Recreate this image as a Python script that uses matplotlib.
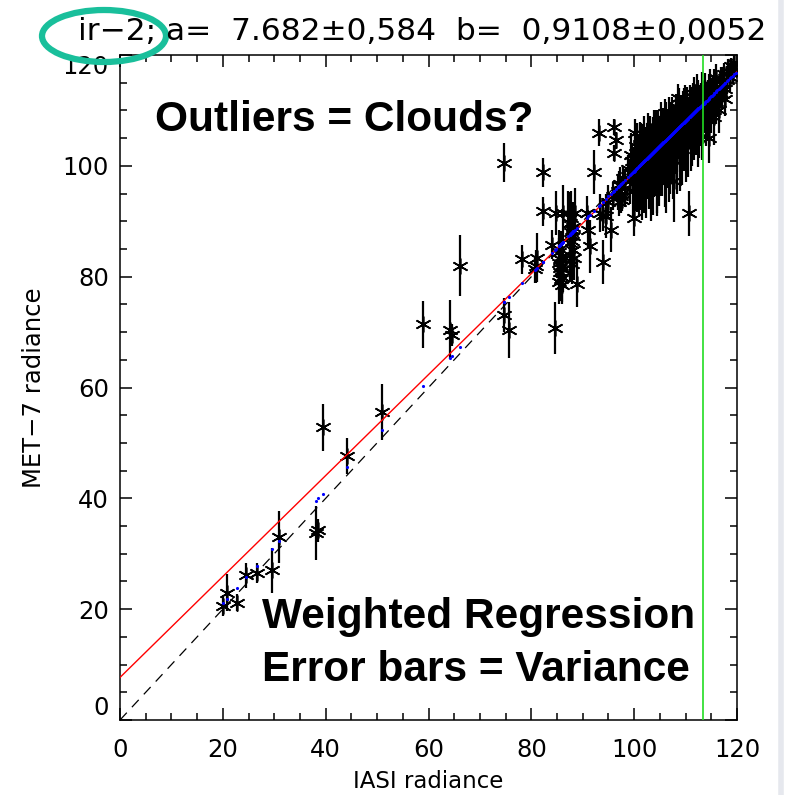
import numpy as np
import matplotlib.pyplot as plt
from matplotlib.patches import Ellipse

# collocated IASI / MET-7 radiances (channel ir-2) and MET-7 pixel variance
iasi = [20.1, 20.8, 22.7, 24.6, 26.6, 29.6, 30.9, 38.1, 38.6, 39.4,
        44.2, 50.9, 59.0, 64.2, 64.6, 66.1, 74.6, 74.6, 75.6, 78.2,
        80.7, 80.9, 81.1, 82.2, 82.2, 84.0, 84.6, 84.8, 85.4, 85.6,
        85.8, 85.5, 85.7, 85.9, 86.1, 86.2, 87.2, 87.5, 87.9, 88.2,
        87.5, 88.1, 88.3, 87.9, 88.5, 88.8, 90.8, 91.1, 91.4, 92.1,
        93.1, 93.4, 93.9, 93.9, 94.5, 95.0, 95.5, 95.8, 96.0, 96.4,
        96.0, 96.9, 99.9,
        85.3, 85.6, 85.9, 85.4, 86.0, 87.7, 88.0, 87.6, 88.2, 87.8,
        96.8, 97.2, 97.5, 97.1,
        97.0, 97.4, 97.6, 97.8, 98.3, 98.8, 99.2, 99.6, 100.0, 100.2,
        100.3, 100.5, 100.8, 101.0, 101.2, 101.4, 101.6, 101.8, 102.0, 102.2,
        102.4, 102.6, 102.8, 103.0, 103.2, 103.4, 103.6, 103.8, 104.0, 104.2,
        104.4, 104.6, 104.8, 105.0, 105.2, 105.4, 105.6, 105.8, 106.0, 106.0,
        106.2, 106.4, 106.6, 106.8, 107.0, 107.2, 107.4, 107.6, 107.8, 108.0,
        108.2, 108.4, 108.6, 108.8, 109.0, 109.2, 109.4, 109.6, 109.8, 110.0,
        110.2, 110.4, 110.7, 110.8, 111.0, 111.2, 111.4, 111.6, 111.8, 112.0,
        112.2, 112.4, 112.6, 112.8, 113.0, 113.2, 113.5, 113.8, 114.0, 114.3,
        114.5, 114.8, 115.0, 115.3, 115.6, 115.9, 116.2, 116.5, 116.8, 117.1,
        117.4, 117.7, 117.7, 118.0, 118.3, 118.6, 118.9, 119.2, 119.5, 119.8,
        99.4, 99.8, 100.1, 100.4, 100.6, 100.9, 101.1, 101.3, 101.5, 101.7,
        101.9, 102.1, 102.3, 102.5, 102.7, 102.9, 103.1, 103.3, 103.5, 103.7,
        103.9, 104.1, 104.3, 104.5, 104.7, 104.9, 105.1, 105.3, 105.5, 105.7,
        105.9, 106.1, 106.3, 106.5, 106.7, 106.9, 107.1, 107.3, 107.5, 107.7,
        107.9, 108.1, 108.3, 108.5, 108.7, 108.9, 109.1, 109.3, 109.5, 109.7,
        109.9, 110.1, 110.3, 110.5, 110.9, 111.1, 111.3, 111.5, 111.7, 111.9,
        112.1, 112.3, 112.5, 112.7, 112.9, 113.1, 113.4, 113.7, 114.1, 114.6,
        115.1, 115.5, 116.0, 116.6, 117.2]
met7 = [20.5, 23.0, 21.2, 26.1, 26.5, 27.0, 33.0, 33.7, 34.2, 52.8,
        47.6, 55.6, 71.4, 70.4, 69.5, 82.0, 100.6, 73.1, 70.4, 83.1,
        81.3, 81.9, 83.4, 98.8, 91.8, 85.8, 70.7, 91.5, 84.5, 83.2,
        82.0, 80.8, 79.6, 78.5, 81.3, 91.5, 91.5, 89.7, 88.5, 87.3,
        86.1, 84.9, 83.4, 82.2, 91.5, 78.6, 91.5, 88.5, 85.5, 98.9,
        106.0, 91.5, 91.2, 82.6, 91.0, 93.5, 88.5, 94.6, 107.0, 104.6,
        102.3, 94.5, 90.6,
        82.5, 81.5, 80.0, 79.0, 83.8, 88.0, 86.5, 84.0, 89.0, 90.5,
        95.5, 96.8, 94.5, 93.5,
        96.5, 95.0, 93.8, 97.8, 96.0, 99.5, 97.2, 100.8, 98.0, 106.0,
        103.5, 96.2, 101.0, 99.2, 105.2, 97.5, 102.3, 100.0, 104.0, 98.6,
        101.5, 106.5, 99.8, 103.0, 97.0, 101.2, 104.8, 100.3, 102.6, 107.0,
        99.0, 103.8, 101.6, 105.5, 100.5, 103.0, 108.0, 102.0, 104.5, 109.6,
        98.5, 106.2, 103.2, 109.5, 101.5, 105.0, 107.5, 103.5, 97.3, 106.0,
        110.0, 104.0, 112.3, 107.2, 102.5, 108.8, 105.5, 111.0, 106.8, 103.5,
        109.5, 107.5, 91.4, 111.5, 105.0, 108.6, 112.5, 106.5, 110.2, 108.0,
        113.5, 105.8, 110.8, 108.5, 112.0, 106.5, 110.5, 113.8, 108.5, 112.0,
        105.1, 114.5, 110.5, 113.0, 108.8, 115.8, 112.5, 110.0, 114.8, 113.0,
        116.5, 112.0, 113.8, 115.5, 117.2, 116.0, 118.0, 116.8, 118.5, 117.5,
        102.0, 95.5, 100.0, 98.8, 102.8, 97.0, 103.5, 100.8, 95.8, 104.0,
        98.0, 102.0, 96.5, 103.8, 101.0, 97.8, 105.5, 99.5, 102.5, 98.2,
        106.0, 100.5, 104.5, 97.5, 106.5, 99.8, 103.5, 108.5, 101.0, 105.0,
        99.5, 107.5, 102.0, 104.8, 100.5, 107.0, 103.0, 109.0, 101.0, 106.0,
        104.5, 108.0, 102.0, 106.5, 110.5, 104.8, 107.5, 103.0, 109.5, 105.0,
        111.5, 106.0, 110.8, 104.5, 108.2, 110.0, 106.0, 109.0, 113.0, 107.5,
        110.5, 108.0, 112.0, 107.0, 110.0, 114.0, 109.0, 111.5, 110.0, 112.5,
        111.8, 114.5, 111.5, 113.5, 115.0]
met7_err = [1.7, 3.4, 1.5, 2.3, 1.8, 4.1, 4.7, 4.9, 2.0, 4.2,
            3.2, 5.0, 4.2, 5.3, 2.0, 5.5, 3.5, 3.0, 5.0, 2.6,
            2.5, 3.0, 4.4, 2.7, 2.6, 2.6, 4.7, 3.9, 4.0, 5.0,
            4.5, 5.0, 4.0, 3.5, 4.0, 5.1, 4.0, 5.5, 4.5, 5.0,
            4.0, 4.5, 4.0, 3.5, 4.5, 4.0, 3.0, 3.5, 4.8, 3.9,
            2.5, 3.5, 3.0, 4.0, 4.0, 3.0, 4.0, 2.5, 1.5, 1.5,
            1.5, 2.5, 3.3,
            4.5, 5.0, 4.5, 4.0, 4.5, 5.5, 5.0, 5.0, 4.5, 5.0,
            3.0, 3.0, 3.0, 2.5,
            2.5, 3.0, 2.0, 2.0, 3.5, 2.5, 4.0, 3.0, 5.0, 2.5,
            3.5, 4.5, 3.0, 6.0, 2.5, 5.5, 4.0, 3.0, 5.0, 6.5,
            3.5, 3.0, 5.0, 4.5, 7.0, 3.0, 4.0, 6.0, 3.5, 3.0,
            7.5, 4.5, 5.0, 3.0, 6.0, 4.0, 2.5, 5.5, 4.0, 2.5,
            7.0, 3.5, 5.0, 3.0, 6.5, 4.0, 3.0, 5.5, 7.5, 4.5,
            3.0, 6.0, 2.5, 3.5, 7.0, 4.0, 5.0, 3.0, 4.5, 6.5,
            3.5, 5.0, 4.0, 3.0, 6.0, 4.0, 2.5, 5.5, 3.5, 4.5,
            3.0, 6.0, 3.5, 5.0, 3.0, 5.5, 4.0, 3.0, 5.0, 3.5,
            4.5, 3.0, 4.5, 3.0, 5.0, 2.5, 3.5, 4.0, 3.0, 2.5,
            2.0, 3.0, 2.0, 2.5, 2.0, 2.5, 1.5, 2.0, 1.5, 1.5,
            4.0, 5.0, 6.0, 7.0, 5.0, 6.0, 4.5, 7.0, 5.5, 3.5,
            6.5, 5.0, 6.0, 4.0, 7.0, 5.5, 3.5, 6.5, 5.0, 7.0,
            4.0, 6.0, 5.0, 6.5, 3.5, 7.0, 5.5, 3.0, 6.5, 5.0,
            7.0, 4.0, 6.0, 5.5, 7.0, 4.5, 6.0, 3.5, 7.0, 5.0,
            6.0, 4.0, 7.0, 5.0, 3.5, 6.0, 5.0, 6.5, 4.0, 6.0,
            3.0, 5.5, 3.5, 6.5, 5.0, 4.0, 6.0, 5.0, 3.0, 5.5,
            4.0, 6.0, 3.5, 5.5, 4.5, 3.0, 5.0, 4.0, 5.0, 4.0,
            4.0, 3.0, 4.0, 3.0, 2.5]

# weighted regression result  MET7 = a + b * IASI
fit_a, fit_a_err = 7.682, 0.584
fit_b, fit_b_err = 0.9108, 0.0052
# unweighted quadratic fit, shown as dots at each sample
quad_coef = [-0.125, 1.0713, -0.000794]
# saturation threshold of the MET-7 channel
iasi_cut = 113.3

x_ticks = [0, 20, 40, 60, 80, 100, 120]
y_ticks = [0, 20, 40, 60, 80, 100, 120]

iasi = np.array(iasi)
met7 = np.array(met7)
met7_err = np.array(met7_err)

W, H = 785, 795
fig = plt.figure(figsize=(W / 100, H / 100), dpi=100)
ax = fig.add_axes([120 / W, (H - 720) / H, 617 / W, 665 / H])

ax.errorbar(iasi, met7, yerr=met7_err, fmt='none', ecolor='black',
            elinewidth=1.6, capsize=0, zorder=2)
ax.plot(iasi, met7, linestyle='none', marker=(6, 2, 0), ms=11.5, mew=1.2,
        color='black', zorder=3)

xx = np.array([0, 120])
ax.plot(xx, xx, color='black', lw=0.9, dashes=(8, 6), zorder=4)
ax.plot(xx, fit_a + fit_b * xx, color='red', lw=1.0, zorder=5)
qx = np.sort(iasi)
qy = quad_coef[0] + quad_coef[1] * qx + quad_coef[2] * qx ** 2
ax.plot(qx, qy, linestyle='none', marker='.', ms=2.5, color='blue', zorder=6)
ax.axvline(iasi_cut, color='#22dd22', lw=1.2, zorder=6)

ax.set_xlim(0, 120)
ax.set_ylim(0, 120)
ax.set_xticks(x_ticks)
ax.set_yticks(y_ticks)
ax.set_xticks(np.arange(0, 121, 5), minor=True)
ax.set_yticks(np.arange(0, 121, 5), minor=True)
ax.tick_params(which='both', direction='in', top=True, right=True,
               width=1.1, colors='black')
ax.tick_params(which='major', length=8.5, labelsize=17.5)
ax.tick_params(which='minor', length=5)
ax.tick_params(axis='x', which='major', pad=13)
ax.tick_params(axis='y', which='major', pad=8)
for s in ax.spines.values():
    s.set_linewidth(1.1)

ylabels = ax.get_yticklabels()
ylabels[0].set_va('bottom')
ylabels[-1].set_va('top')

ax.set_xlabel('IASI radiance', fontsize=16.5, labelpad=6)
ax.set_ylabel('MET\u22127 radiance', fontsize=17.5, labelpad=12)

title = 'ir\u22122; a=  %s\u00b1%s  b=  %s\u00b1%s' % (
    '7.682', '0,584', '0,9108', '0,0052')
fig.text(422 / W, 1 - 31 / H, title, fontsize=22.5, ha='center', va='center')

fig.patches.append(Ellipse((104 / W, 1 - 36 / H), 124 / W, 52 / H,
                           transform=fig.transFigure, fill=False,
                           edgecolor='#19bf9b', lw=4.5))

bold = dict(family='Liberation Sans', fontweight='bold', fontsize=30.5,
            ha='left', va='center')
fig.text(155 / W, 1 - 120 / H, 'Outliers = Clouds?', **bold)
fig.text(262 / W, 1 - 617 / H, 'Weighted Regression', **bold)
fig.text(262 / W, 1 - 670 / H, 'Error bars = Variance', **bold)

# slide border on the right
fig.add_artist(plt.Line2D([781 / W, 781 / W], [0, 1], transform=fig.transFigure,
                          color='#e6e8ee', lw=4))

fig.savefig('out.png', dpi=100)
